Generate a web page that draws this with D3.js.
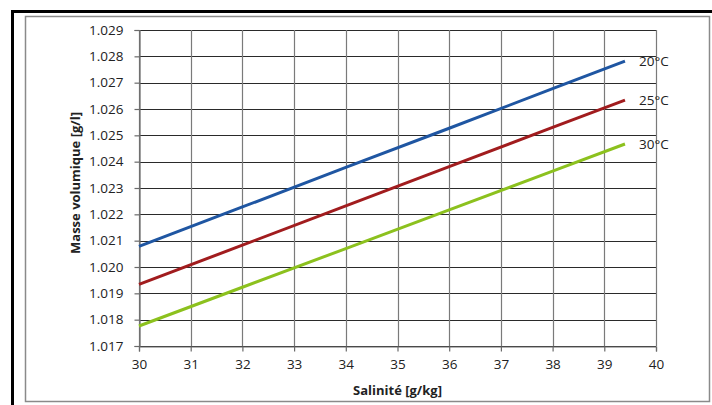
<!DOCTYPE html>
<html>
<head>
<meta charset="utf-8">
<script src="https://cdn.jsdelivr.net/npm/d3@7"></script>
<style>
  html, body { margin: 0; padding: 0; background: #fff; }
  svg text { font-family: "Open Sans", "Liberation Sans", sans-serif; fill: #222; }
</style>
</head>
<body>
<div id="chart"></div>
<script>
// Salinity (g/kg) sample points along each line
const salinity = [30, 32, 34, 36, 38, 39.4];
const series = ["20°C", "25°C", "30°C"];
const density20 = [1.02078, 1.02228, 1.02378, 1.02527, 1.02677, 1.02782];
const density25 = [1.01934, 1.02083, 1.02232, 1.02381, 1.02530, 1.02634];
const density30 = [1.01776, 1.01923, 1.02070, 1.02217, 1.02364, 1.02467];
const xTicks = [30, 31, 32, 33, 34, 35, 36, 37, 38, 39, 40];
const yTicks = [1.017, 1.018, 1.019, 1.020, 1.021, 1.022, 1.023, 1.024, 1.025, 1.026, 1.027, 1.028, 1.029];

const colours = ["#1f56a2", "#a11c1e", "#8cc11e"];
const W = 712, H = 405;
const plot = {left: 139, right: 656, top: 30, bottom: 346};

const svg = d3.select("#chart").append("svg")
    .attr("width", W).attr("height", H);

// outer frames
svg.append("rect").attr("x", 12.5).attr("y", 11.5)
    .attr("width", 720).attr("height", 420)
    .attr("fill", "none").attr("stroke", "#000").attr("stroke-width", 3);
svg.append("rect").attr("x", 25.5).attr("y", 16.5)
    .attr("width", 684).attr("height", 385)
    .attr("fill", "none").attr("stroke", "#8a8a8a").attr("stroke-width", 1.5);

const x = d3.scaleLinear().domain([30, 40]).range([plot.left, plot.right]);
const y = d3.scaleLinear().domain([1.017, 1.029]).range([plot.bottom, plot.top]);

// horizontal gridlines
svg.append("g").selectAll("line").data(yTicks).enter().append("line")
    .attr("x1", plot.left).attr("x2", plot.right)
    .attr("y1", d => Math.round(y(d)) + 0.5).attr("y2", d => Math.round(y(d)) + 0.5)
    .attr("stroke", "#2a2a2a").attr("stroke-width", 1);

// vertical gridlines
svg.append("g").selectAll("line").data(xTicks).enter().append("line")
    .attr("x1", d => Math.round(x(d)) + 0.5).attr("x2", d => Math.round(x(d)) + 0.5)
    .attr("y1", plot.top).attr("y2", plot.bottom)
    .attr("stroke", "#7a7a7a").attr("stroke-width", 1.2);

// axes
const yAxis = svg.append("g")
    .attr("transform", `translate(${plot.left + 0.5},0)`)
    .call(d3.axisLeft(y).tickValues(yTicks).tickFormat(d3.format(".3f")).tickSize(5).tickPadding(11));
const xAxis = svg.append("g")
    .attr("transform", `translate(0,${plot.bottom + 0.5})`)
    .call(d3.axisBottom(x).tickValues(xTicks).tickFormat(d3.format("d")).tickSize(5).tickPadding(8));
[yAxis, xAxis].forEach(a => {
  a.select(".domain").attr("stroke", "#6a6a6a").attr("stroke-width", 1.2);
  a.selectAll(".tick line").attr("stroke", "#6a6a6a").attr("stroke-width", 1.2);
  a.selectAll("text").style("font-size", "13.5px").attr("fill", "#222");
});

// lines
const line = d3.line().x((d, i) => x(salinity[i])).y(d => y(d));
[density20, density25, density30].forEach((vals, k) => {
  svg.append("path").datum(vals)
      .attr("d", line)
      .attr("fill", "none")
      .attr("stroke", colours[k])
      .attr("stroke-width", 3);
  svg.append("text")
      .attr("x", x(salinity[salinity.length - 1]) + 14)
      .attr("y", y(vals[vals.length - 1]))
      .attr("dy", "0.35em")
      .style("font-size", "13.5px")
      .text(series[k]);
});

// axis titles
svg.append("text")
    .attr("x", (plot.left + plot.right) / 2)
    .attr("y", 390)
    .attr("text-anchor", "middle")
    .attr("dy", "0.35em")
    .style("font-size", "13px").style("font-weight", "bold")
    .text("Salinité [g/kg]");
svg.append("text")
    .attr("transform", "translate(75,183) rotate(-90)")
    .attr("text-anchor", "middle")
    .attr("dy", "0.35em")
    .style("font-size", "13px").style("font-weight", "bold")
    .text("Masse volumique [g/l]");
</script>
</body>
</html>
